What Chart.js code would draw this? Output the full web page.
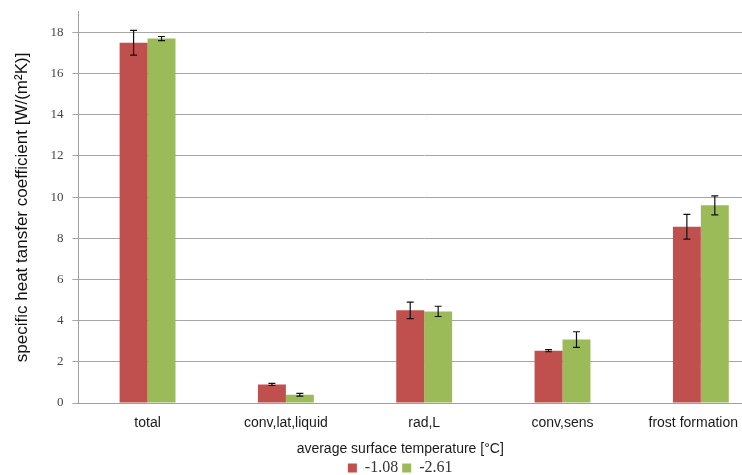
<!DOCTYPE html>
<html>
<head>
<meta charset="utf-8">
<script src="https://cdn.jsdelivr.net/npm/chart.js@4"></script>
<style>
  html, body { margin: 0; padding: 0; background: #fff; overflow: hidden; }
  /* the plot runs on past the right edge of the frame */
  #wrap { width: 742px; height: 475px; overflow: hidden; }
</style>
</head>
<body>
<div id="wrap"><canvas id="chart" width="770" height="475"></canvas></div>
<script>
// heat transfer components
var categories = ["total", "conv,lat,liquid", "rad,L", "conv,sens", "frost formation"];
var seriesNames = ["-1.08", "-2.61"];
var warmValues = [17.5, 0.9, 4.5, 2.54, 8.56];
var warmErrors = [0.6, 0.05, 0.4, 0.05, 0.6];
var coldValues = [17.7, 0.4, 4.45, 3.08, 9.6];
var coldErrors = [0.1, 0.07, 0.25, 0.38, 0.46];
var yTicks = [0, 2, 4, 6, 8, 10, 12, 14, 16, 18];

var visibleWidth = 742;

// draws +/- whiskers with caps on top of every bar
var errorBars = {
  id: "errorBars",
  afterDatasetsDraw: function(chart) {
    var ctx = chart.ctx;
    var y = chart.scales.y;
    ctx.save();
    ctx.strokeStyle = "#111";
    ctx.lineWidth = 1.2;
    chart.data.datasets.forEach(function(ds, i) {
      chart.getDatasetMeta(i).data.forEach(function(bar, j) {
        var v = ds.data[j], e = ds.errors[j];
        var top = y.getPixelForValue(v + e);
        var bot = y.getPixelForValue(v - e);
        var x = bar.x;
        ctx.beginPath();
        ctx.moveTo(x, top); ctx.lineTo(x, bot);
        ctx.moveTo(x - 3.5, top); ctx.lineTo(x + 3.5, top);
        ctx.moveTo(x - 3.5, bot); ctx.lineTo(x + 3.5, bot);
        ctx.stroke();
      });
    });
    ctx.restore();
  }
};

// centre the legend on the visible part and pull its title up to the axis labels
var legendShift = {
  id: "legendShift",
  afterLayout: function(chart) {
    chart.legend.left -= 24;
    chart.legend.right -= 24;
    chart.legend.top -= 6;
  }
};

// keep the category labels inside the visible frame
var keepLabelsInside = {
  id: "keepLabelsInside",
  beforeDraw: function(chart) {
    var ctx = chart.ctx;
    chart.scales.x.getLabelItems().forEach(function(item) {
      ctx.font = item.font.string;
      var half = ctx.measureText(item.label).width / 2;
      var over = item.options.translation[0] + half - (visibleWidth - 4);
      if (over > 0) item.options.translation[0] -= over;
    });
  }
};

new Chart(document.getElementById("chart"), {
  type: "bar",
  data: {
    labels: categories,
    datasets: [{
      label: seriesNames[0],
      data: warmValues,
      errors: warmErrors,
      backgroundColor: "#C0504D"
    }, {
      label: seriesNames[1],
      data: coldValues,
      errors: coldErrors,
      backgroundColor: "#9BBB59"
    }]
  },
  options: {
    responsive: false,
    animation: false,
    layout: { padding: { top: 0, right: 0, left: 12, bottom: 0 } },
    datasets: { bar: { categoryPercentage: 0.404, barPercentage: 1.0 } },
    plugins: {
      tooltip: { enabled: false },
      legend: {
        position: "bottom",
        fullSize: false,
        maxHeight: 31.6,
        title: {
          display: true,
          text: "average surface temperature [°C]",
          color: "#1a1a1a",
          font: { family: "Liberation Sans", size: 14 },
          padding: { top: 5.2, bottom: -3.4 }
        },
        labels: {
          boxWidth: 9,
          boxHeight: 9,
          padding: 4,
          color: "#333",
          font: { family: "Liberation Serif", size: 16 }
        }
      }
    },
    scales: {
      x: {
        grid: { display: false, drawTicks: false },
        border: { color: "#a0a0a0" },
        ticks: {
          color: "#1a1a1a",
          padding: 11.8,
          font: { family: "Liberation Sans", size: 14 }
        }
      },
      y: {
        min: 0,
        max: 19,
        afterBuildTicks: function(scale) {
          scale.ticks = yTicks.map(function(v) { return { value: v }; });
        },
        afterFit: function(scale) {
          scale.paddingTop = 11.8;
        },
        grid: { color: "#a6a6a6", tickLength: 6, lineWidth: 1 },
        border: { color: "#a0a0a0" },
        ticks: {
          color: "#444",
          padding: 9,
          font: { family: "Liberation Serif", size: 13 }
        },
        title: {
          display: true,
          text: "specific heat tansfer coefficient [W/(m²K)]",
          color: "#111",
          padding: { top: 0, bottom: 9 },
          font: { family: "Liberation Sans", size: 17 }
        }
      }
    }
  },
  plugins: [errorBars, legendShift, keepLabelsInside]
});
</script>
</body>
</html>
